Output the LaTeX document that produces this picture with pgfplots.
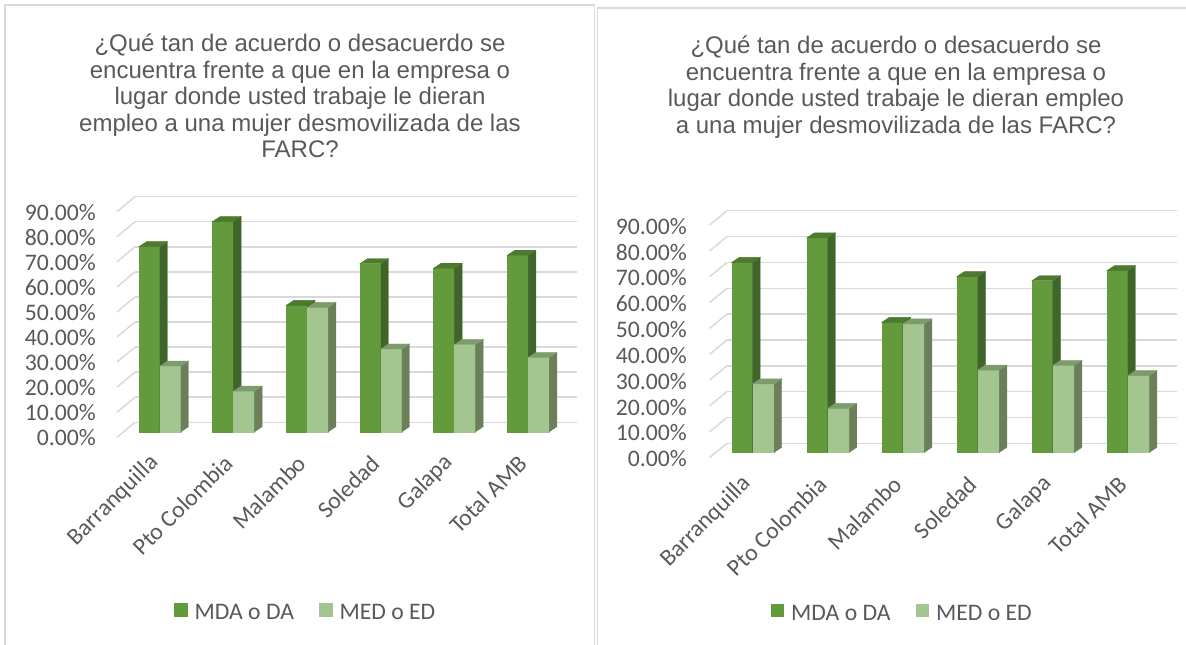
\documentclass[border=0pt]{standalone}
\usepackage{pgfplots}
\pgfplotsset{compat=1.18}
\usepackage{pgfplotstable}
\usepackage{fontspec}
\setmainfont{Liberation Sans}
\newfontfamily\calf{Carlito}
\definecolor{txt}{HTML}{595959}
\definecolor{gridc}{HTML}{D9D9D9}
\definecolor{brd}{HTML}{D9D9D9}
\definecolor{mdaF}{HTML}{629A3C}
\definecolor{mdaS}{HTML}{40652A}
\definecolor{mdaT}{HTML}{4C7A2F}
\definecolor{medF}{HTML}{A3C58F}
\definecolor{medS}{HTML}{6A7F5A}
\definecolor{medT}{HTML}{7E9B6C}

\pgfplotstableread{
x MDA MED
0 73.8 26.2
1 83.8 16.2
2 50.4 49.6
3 67.0 33.0
4 65.2 34.8
5 70.4 29.6
}\leftdata
\pgfplotstableread{
x MDA MED
0 73.5 26.5
1 83.0 17.0
2 50.3 49.7
3 68.0 31.8
4 66.4 33.6
5 70.3 29.7
}\rightdata
\pgfplotstableread{
g
0
10
20
30
40
50
60
70
80
90
}\gridvals

\pgfdeclareplotmark{none0}{}
\pgfdeclareplotmark{slantL}{\pgfpathmoveto{\pgfpointorigin}\pgfpathlineto{\pgfqpoint{-18pt}{-15pt}}\pgfusepathqstroke}
\pgfdeclareplotmark{slantR}{\pgfpathmoveto{\pgfpointorigin}\pgfpathlineto{\pgfqpoint{-17.4pt}{-14.3pt}}\pgfusepathqstroke}

\def\dxx{7.5}
\def\dyy{5}
\pgfplotsset{
  bar3d/.style n args={8}{%
    only marks, mark=none0, scatter, forget plot,
    visualization depends on={y \as \val},
    scatter/@pre marker code/.code={%
      \pgfmathsetmacro\hb{-\val*#8+#7}%
      \pgfmathsetmacro\yt{#7}%
      \pgfmathsetmacro\xl{#4+#6}%
      \pgfmathsetmacro\xr{#5+#6}%
      \pgfmathsetmacro\xld{#4+#6+\dxx}%
      \pgfmathsetmacro\xrd{#5+#6+\dxx}%
      \pgfmathsetmacro\ytd{#7+\dyy}%
      \pgfmathsetmacro\hbd{\hb+\dyy}%
      \fill[#1] (\xl pt,\hb pt) rectangle (\xr pt,\yt pt);
      \fill[#2] (\xr pt,\hb pt) -- (\xrd pt,\hbd pt) -- (\xrd pt,\ytd pt) -- (\xr pt,\yt pt) -- cycle;
      \fill[#3] (\xl pt,\yt pt) -- (\xr pt,\yt pt) -- (\xrd pt,\ytd pt) -- (\xld pt,\ytd pt) -- cycle;
    },
    scatter/@post marker code/.code={},
  },
  panel/.style={
    clip=false,
    xmin=-0.5, xmax=5.5, ymin=0, ymax=90,
    axis line style={draw=none},
    major tick length=0pt,
    ymajorgrids, grid style={draw=gridc, line width=1.5pt},
    ytick={0,10,20,30,40,50,60,70,80,90},
    yticklabels={0.00\%,10.00\%,20.00\%,30.00\%,40.00\%,50.00\%,60.00\%,70.00\%,80.00\%,90.00\%},
    xtick={0,1,2,3,4,5},
    xticklabels={Barranquilla,Pto Colombia,Malambo,Soledad,Galapa,Total AMB},
    legend image code/.code={\fill[##1] (0pt,-4pt) rectangle (13.5pt,9.5pt);},
    legend style={draw=none, fill=none, legend columns=2,
      font=\calf\fontsize{23.7}{28}\selectfont, text=txt,
      nodes={inner sep=0pt},
      /tikz/every odd column/.append style={column sep=7pt},
      /tikz/every even column/.append style={column sep=25pt}},
  }
}

\begin{document}
\begin{tikzpicture}
\path[use as bounding box] (0pt,0pt) rectangle (1186pt,-645pt);
% panel borders
\draw[brd, line width=1.5pt] (5pt,-660pt) -- (5pt,-5pt) -- (594.7pt,-5pt) -- (594.7pt,-660pt);
\draw[brd, line width=1.5pt] (597.7pt,-660pt) -- (597.7pt,-8pt) -- (1200pt,-8pt);
% titles
\node[align=center, font=\fontsize{24}{26.5}\selectfont, text=txt, inner sep=0pt] at (300pt,-96pt)
 {¿Qué tan de acuerdo o desacuerdo se\\encuentra frente a que en la empresa o\\lugar donde usted trabaje le dieran\\empleo a una mujer desmovilizada de las\\FARC?};
\node[align=center, font=\fontsize{24}{26.5}\selectfont, text=txt, inner sep=0pt] at (896pt,-87pt)
 {¿Qué tan de acuerdo o desacuerdo se\\encuentra frente a que en la empresa o\\lugar donde usted trabaje le dieran empleo\\a una mujer desmovilizada de las FARC?};

% left chart
\begin{axis}[panel,
  at={(135pt,-422.3pt)}, anchor=south west,
  x=73.667pt, y=2.507pt,
  yticklabel style={anchor=east, inner sep=0pt, xshift=-39pt, yshift=-15.5pt,
    font=\calf\fontsize{23.7}{28}\selectfont, text=txt},
  xticklabel style={xshift=-17pt, yshift=-37pt, rotate=45, anchor=east, inner sep=0pt,
    font=\calf\fontsize{23.7}{28}\selectfont, text=txt},
  legend style={at={(0.384,-0.841)}, anchor=center},
]
\addplot[only marks, mark=slantL, mark options={draw=gridc, line width=1.5pt}, forget plot]
  table[x expr=-0.5, y=g] {\gridvals};
\addplot[bar3d={mdaF}{mdaS}{mdaT}{-21}{0}{-11.85}{-9.4}{2.507}] table[x=x, y=MDA] {\leftdata};
\addplot[bar3d={medF}{medS}{medT}{0}{21}{-11.85}{-9.4}{2.507}] table[x=x, y=MED] {\leftdata};
\addlegendimage{fill=mdaF, draw=none}
\addlegendentry{MDA o DA}
\addlegendimage{fill=medF, draw=none}
\addlegendentry{MED o ED}
\end{axis}

% right chart
\begin{axis}[panel,
  at={(727pt,-443.3pt)}, anchor=south west,
  x=75.05pt, y=2.584pt,
  yticklabel style={anchor=east, inner sep=0pt, xshift=-40pt, yshift=-15.5pt,
    font=\calf\fontsize{23.7}{28}\selectfont, text=txt},
  xticklabel style={xshift=-17pt, yshift=-37pt, rotate=45, anchor=east, inner sep=0pt,
    font=\calf\fontsize{23.7}{28}\selectfont, text=txt},
  legend style={at={(0.387,-0.729)}, anchor=center},
]
\addplot[only marks, mark=slantR, mark options={draw=gridc, line width=1.5pt}, forget plot]
  table[x expr=-0.5, y=g] {\gridvals};
\addplot[bar3d={mdaF}{mdaS}{mdaT}{-21}{0}{-11.8}{-9}{2.584}] table[x=x, y=MDA] {\rightdata};
\addplot[bar3d={medF}{medS}{medT}{0}{21.5}{-11.8}{-9}{2.584}] table[x=x, y=MED] {\rightdata};
\addlegendimage{fill=mdaF, draw=none}
\addlegendentry{MDA o DA}
\addlegendimage{fill=medF, draw=none}
\addlegendentry{MED o ED}
\end{axis}
\end{tikzpicture}
\end{document}
